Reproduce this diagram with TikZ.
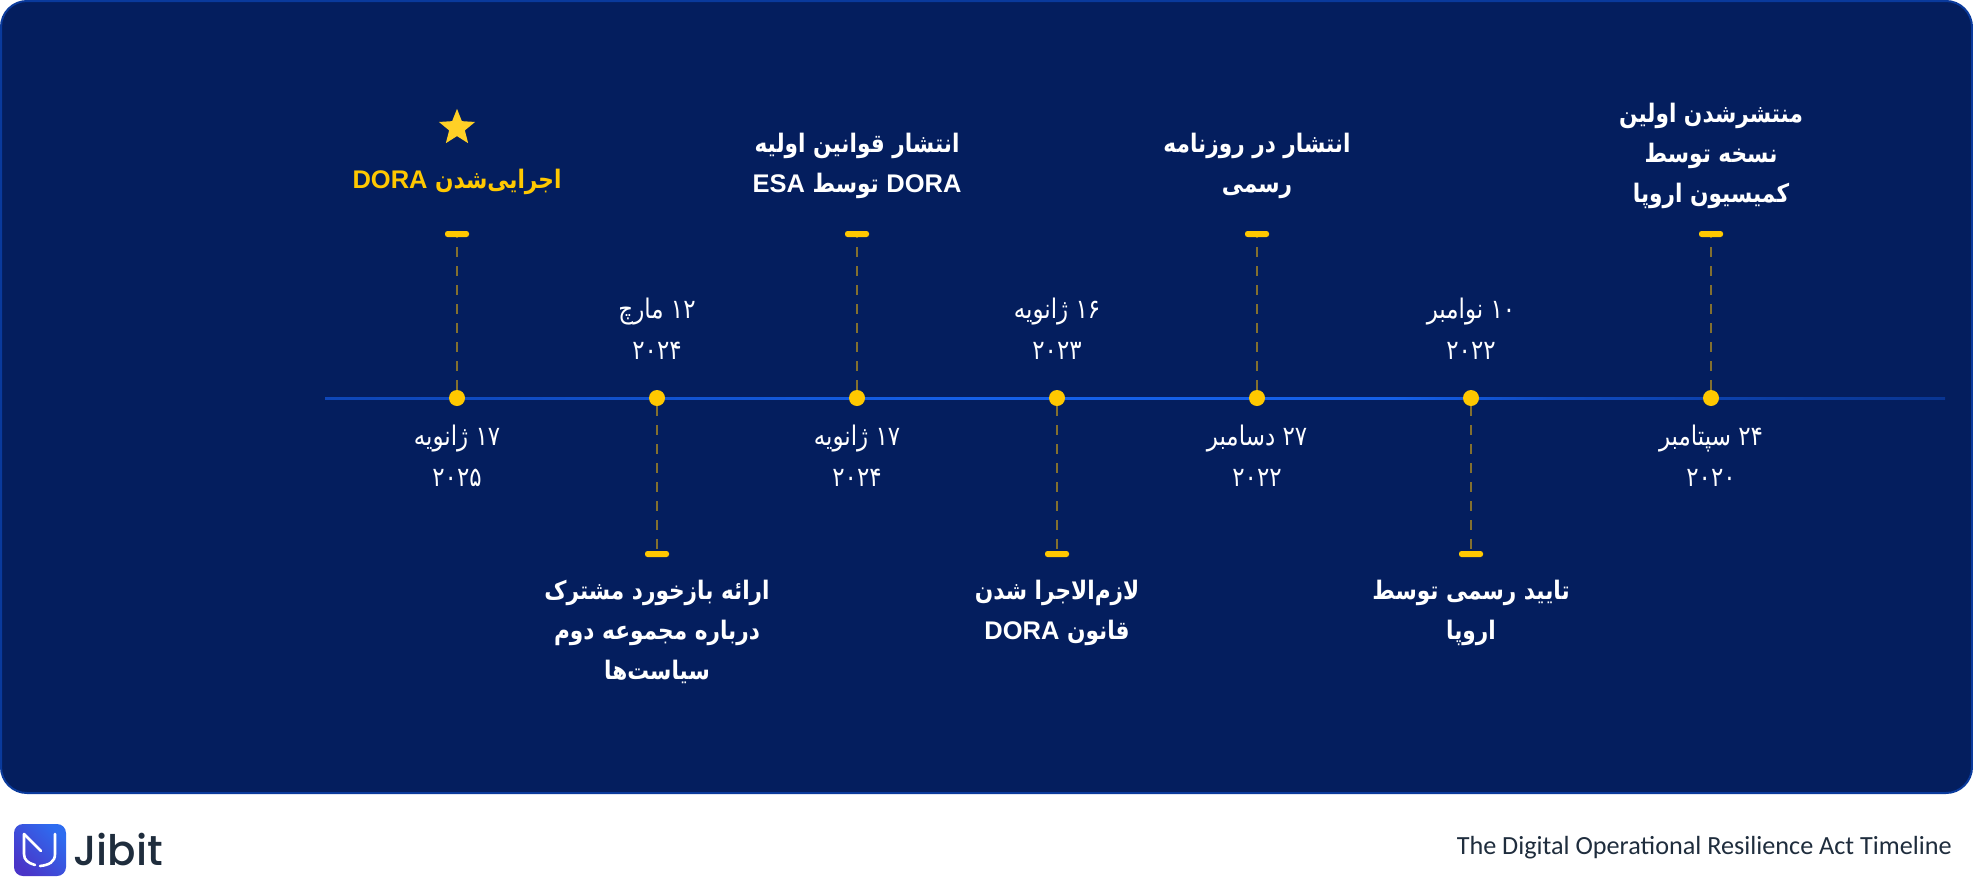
\documentclass[tikz,border=0pt]{standalone}
\usepackage{fontspec}
\usetikzlibrary{positioning,shapes.geometric}
\newfontfamily\arabicfont[Script=Arabic,FakeStretch=0.85]{DejaVu Sans}
\newfontfamily\latinfont{Liberation Sans}
\newfontfamily\footfont{Carlito}
\newfontfamily\logofont[UprightFont={* Medium}]{Poppins}
\TeXXeTstate=1
\newcommand{\rtl}[1]{\beginR #1\endR}
\newcommand{\lat}[1]{\beginL{\latinfont #1}\endL{}}
\newcommand{\num}[1]{\beginL #1\endL{}}
\definecolor{panelblue}{HTML}{041E5E}
\definecolor{panelline}{HTML}{0A3A9C}
\definecolor{axisdim}{HTML}{062575}
\definecolor{axismid}{HTML}{0F4AC0}
\definecolor{axisblue}{HTML}{1560E8}
\definecolor{mileyellow}{HTML}{FFC800}
\definecolor{dashyellow}{HTML}{83702F}
\definecolor{inkdark}{HTML}{1F2D3D}
\definecolor{logoblue}{HTML}{2E6CF0}
\definecolor{logoviolet}{HTML}{4A35C8}
\pgfdeclarehorizontalshading{axisfade}{100bp}{color(0bp)=(panelblue); color(8bp)=(panelline); color(30bp)=(axismid); color(45bp)=(axisblue); color(58bp)=(axisblue); color(63bp)=(axismid); color(72bp)=(panelline); color(85bp)=(axisdim); color(100bp)=(panelblue)}
\begin{document}
\begin{tikzpicture}[%
x=1pt,
y=-1pt,
node distance=1cm,
dot/.style={circle,fill=mileyellow,inner sep=0pt,outer sep=0pt,minimum size=16pt},
tick/.style={rectangle,rounded corners=2.5pt,fill=mileyellow,inner sep=0pt,outer sep=0pt,minimum width=24pt,minimum height=6pt},
pil/.style={dashyellow,line width=1.4pt,dash pattern=on 10pt off 9pt},
datum/.style={text=white,align=center,font=\arabicfont\fontsize{27}{41}\selectfont},
titel/.style={text=white,align=center,font=\arabicfont\bfseries\fontsize{25.5}{40}\selectfont},
]
\useasboundingbox (0,0) rectangle (1973,876);
\draw[panelline,fill=panelblue,line width=2pt,rounded corners=26pt] (1,1) rectangle (1972,793);
% axis
\coordinate (axisL) at (325,397);
\coordinate (axisR) at (1945,399);
\shade[shading=axisfade] (axisL) rectangle (axisR);
% milestones
\node[dot] (d1) at (457,398) {};
\node[dot,right=184pt of d1] (d2) {};
\node[dot,right=184pt of d2] (d3) {};
\node[dot,right=184pt of d3] (d4) {};
\node[dot,right=184pt of d4] (d5) {};
\node[dot,right=198pt of d5] (d6) {};
\node[dot,right=224pt of d6] (d7) {};
\node[tick,above=153pt of d1] (t1) {};
\node[tick,above=153pt of d3] (t3) {};
\node[tick,above=153pt of d5] (t5) {};
\node[tick,above=153pt of d7] (t7) {};
\node[tick,below=145pt of d2] (t2) {};
\node[tick,below=145pt of d4] (t4) {};
\node[tick,below=145pt of d6] (t6) {};
\foreach \i in {1,...,7} \draw[pil] (d\i) -- (t\i);
% dates
\node[datum,below=15pt of d1] (w1) {\rtl{\num{۱۷} ژانویه}\\ \num{۲۰۲۵}};
\node[datum,above=27pt of d2] (w2) {\rtl{\num{۱۲} مارچ}\\ \num{۲۰۲۴}};
\node[datum,below=15pt of d3] (w3) {\rtl{\num{۱۷} ژانویه}\\ \num{۲۰۲۴}};
\node[datum,above=27pt of d4] (w4) {\rtl{\num{۱۶} ژانویه}\\ \num{۲۰۲۳}};
\node[datum,below=15pt of d5] (w5) {\rtl{\num{۲۷} دسامبر}\\ \num{۲۰۲۲}};
\node[datum,above=27pt of d6] (w6) {\rtl{\num{۱۰} نوامبر}\\ \num{۲۰۲۲}};
\node[datum,below=15pt of d7] (w7) {\rtl{\num{۲۴} سپتامبر}\\ \num{۲۰۲۰}};
% titles
\node[titel,text=mileyellow,above=33pt of t1] (c1) {\rtl{اجرایی‌شدن \lat{DORA}}};
\node[star,star points=5,star point ratio=2.3,fill=mileyellow!85!white,inner sep=0pt,minimum size=38pt,above=29pt of c1] (s1) {};
\node[titel,above=29pt of t3] (c3) {\rtl{انتشار قوانین اولیه}\\ \rtl{\lat{DORA} توسط \lat{ESA}}};
\node[titel,above=29pt of t5] (c5) {\rtl{انتشار در روزنامه}\\ \rtl{رسمی}};
\node[titel,above=19pt of t7] (c7) {\rtl{منتشرشدن اولین}\\ \rtl{نسخه توسط}\\ \rtl{کمیسیون اروپا}};
\node[titel,below=20pt of t2] (c2) {\rtl{ارائه بازخورد مشترک}\\ \rtl{درباره مجموعه دوم}\\ \rtl{سیاست‌ها}};
\node[titel,below=20pt of t4] (c4) {\rtl{لازم‌الاجرا شدن}\\ \rtl{قانون \lat{DORA}}};
\node[titel,below=20pt of t6] (c6) {\rtl{تایید رسمی توسط}\\ \rtl{اروپا}};
% footer
\node[rectangle,rounded corners=9pt,inner sep=0pt,outer sep=0pt,minimum size=52pt,left color=logoblue,right color=logoviolet,shading angle=-45] (logo) at (40,850) {};
\draw[white,line width=2.6pt,line cap=round,line join=round] (24,834) -- (24,854) .. controls (24,860) and (28,863) .. (35,865);
\draw[white,line width=2.6pt,line cap=round,line join=round] (24,834) -- (41,851);
\draw[white,line width=2.6pt,line cap=round] (55,834) -- (55,854) .. controls (55,862) and (49,865) .. (40,866);
\node[text=inkdark,inner sep=0pt,font=\logofont\fontsize{42}{42}\selectfont,right=7pt of logo] (brand) {Jibit};
\node[text=inkdark,anchor=east,inner sep=0pt,font=\footfont\fontsize{26.2}{26.2}\selectfont] (cap) at (1952,848) {The Digital Operational Resilience Act Timeline};
\end{tikzpicture}
\end{document}
